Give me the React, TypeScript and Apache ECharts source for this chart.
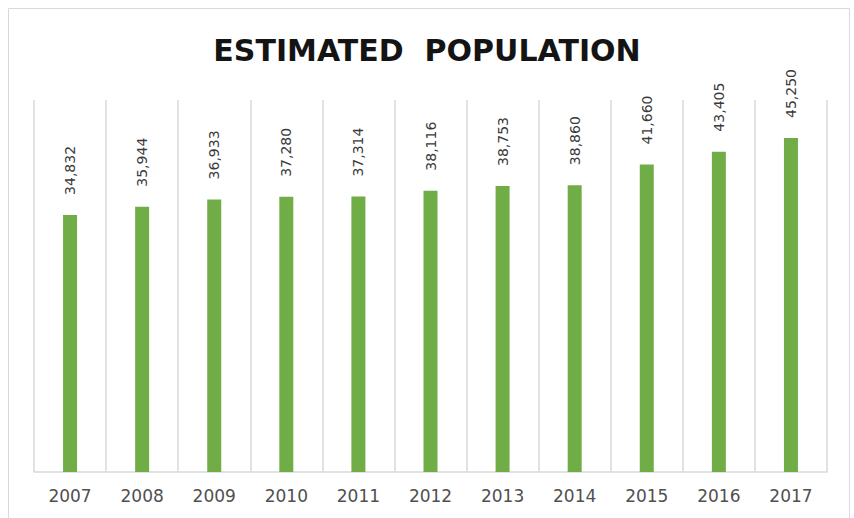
import React, { useEffect, useRef } from "react";
import * as echarts from "echarts";

const titleText = "ESTIMATED  POPULATION";
const years = ["2007", "2008", "2009", "2010", "2011", "2012", "2013", "2014", "2015", "2016", "2017"];
const population = [34832, 35944, 36933, 37280, 37314, 38116, 38753, 38860, 41660, 43405, 45250];

export default function App() {
  const ref = useRef<HTMLDivElement>(null);
  useEffect(() => {
    if (!ref.current) return;
    const chart = echarts.init(ref.current, null, { renderer: "svg" });
    chart.setOption({
      animation: false,
      backgroundColor: "#ffffff",
      title: {
        text: titleText,
        left: "center",
        top: 30,
        textStyle: {
          fontFamily: "DejaVu Sans",
          fontWeight: "bold",
          fontSize: 30,
          color: "#141414",
        },
      },
      graphic: [
        {
          type: "rect",
          shape: { x: 8.5, y: 8.5, width: 841, height: 520 },
          style: { fill: "none", stroke: "#d9d9d9", lineWidth: 1 },
          silent: true,
        },
      ],
      grid: { left: 34, right: 27, top: 100, bottom: 46 },
      xAxis: {
        type: "category",
        data: years,
        axisTick: { show: false },
        axisLine: { lineStyle: { color: "#d9d9d9", width: 1.5 } },
        splitLine: { show: true, lineStyle: { color: "#d9d9d9", width: 1.5 } },
        axisLabel: {
          fontFamily: "DejaVu Sans",
          fontSize: 17,
          color: "#505050",
          margin: 15,
        },
      },
      yAxis: {
        type: "value",
        min: 0,
        max: 50400,
        show: false,
        splitLine: { show: false },
      },
      series: [
        {
          type: "bar",
          data: population,
          barWidth: 14,
          itemStyle: { color: "#70ad47" },
          label: {
            show: true,
            position: "top",
            rotate: 90,
            align: "left",
            verticalAlign: "middle",
            distance: 20,
            fontFamily: "DejaVu Sans",
            fontSize: 14,
            color: "#3a3a3a",
            formatter: (p: any) => Number(p.value).toLocaleString("en-US"),
          },
        },
      ],
    });
    return () => chart.dispose();
  }, []);
  return (
    <div
      ref={ref}
      style={{ position: "absolute", left: 0, top: 0, width: 854, height: 518 }}
    />
  );
}
